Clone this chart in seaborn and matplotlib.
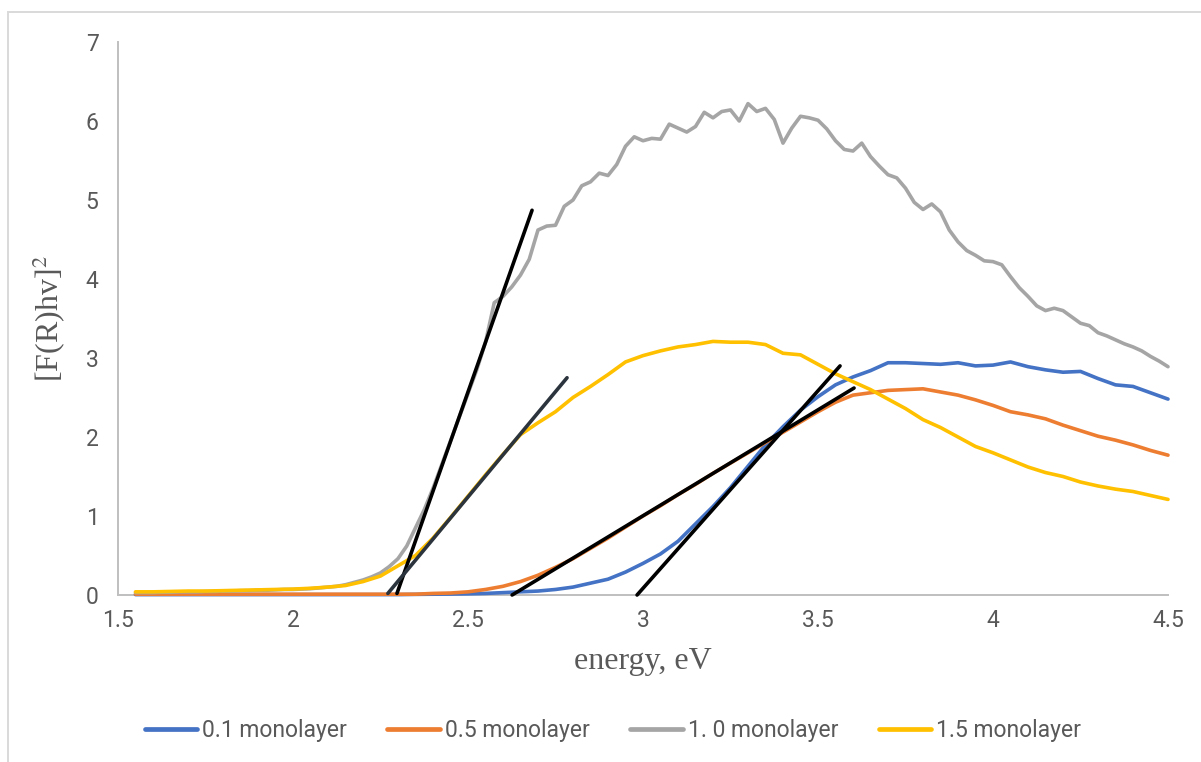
import numpy as np
import pandas as pd
import matplotlib
matplotlib.use("Agg")
import matplotlib.pyplot as plt
from matplotlib import font_manager
from matplotlib.lines import Line2D
from matplotlib.patches import Rectangle
from matplotlib.ticker import FuncFormatter
import seaborn as sns

# ---- data -------------------------------------------------------------
# photon energy grid (eV) for the smoother spectra
energy = [1.55, 1.60, 1.65, 1.70, 1.75, 1.80, 1.85, 1.90, 1.95, 2.00,
          2.05, 2.10, 2.15, 2.20, 2.25, 2.30, 2.35, 2.40, 2.45, 2.50,
          2.55, 2.60, 2.65, 2.70, 2.75, 2.80, 2.85, 2.90, 2.95, 3.00,
          3.05, 3.10, 3.15, 3.20, 3.25, 3.30, 3.35, 3.40, 3.45, 3.50,
          3.55, 3.60, 3.65, 3.70, 3.75, 3.80, 3.85, 3.90, 3.95, 4.00,
          4.05, 4.10, 4.15, 4.20, 4.25, 4.30, 4.35, 4.40, 4.45, 4.50]

ml_01 = [0.005, 0.005, 0.005, 0.005, 0.005, 0.005, 0.005, 0.005, 0.005, 0.005,
         0.005, 0.005, 0.005, 0.005, 0.005, 0.005, 0.008, 0.010, 0.012, 0.015,
         0.020, 0.030, 0.040, 0.050, 0.070, 0.100, 0.150, 0.200, 0.290, 0.400,
         0.520, 0.680, 0.900, 1.120, 1.360, 1.630, 1.900, 2.130, 2.340, 2.510,
         2.660, 2.760, 2.840, 2.940, 2.940, 2.930, 2.920, 2.940, 2.900, 2.910,
         2.950, 2.890, 2.850, 2.820, 2.830, 2.740, 2.660, 2.640, 2.560, 2.480]

ml_05 = [0.010, 0.010, 0.010, 0.010, 0.010, 0.010, 0.010, 0.010, 0.010, 0.010,
         0.010, 0.010, 0.010, 0.010, 0.010, 0.010, 0.010, 0.020, 0.025, 0.040,
         0.070, 0.110, 0.170, 0.250, 0.350, 0.460, 0.590, 0.720, 0.860, 1.000,
         1.130, 1.270, 1.400, 1.540, 1.670, 1.800, 1.930, 2.060, 2.190, 2.320,
         2.440, 2.530, 2.560, 2.590, 2.600, 2.610, 2.570, 2.530, 2.470, 2.400,
         2.320, 2.280, 2.230, 2.150, 2.080, 2.010, 1.960, 1.900, 1.830, 1.770]

ml_15 = [0.040, 0.040, 0.045, 0.050, 0.050, 0.055, 0.060, 0.065, 0.070, 0.075,
         0.085, 0.100, 0.120, 0.170, 0.240, 0.370, 0.500, 0.720, 0.980, 1.250,
         1.520, 1.780, 2.030, 2.180, 2.320, 2.500, 2.640, 2.790, 2.950, 3.030,
         3.090, 3.140, 3.170, 3.210, 3.200, 3.200, 3.170, 3.060, 3.040, 2.920,
         2.800, 2.700, 2.600, 2.480, 2.360, 2.220, 2.120, 2.000, 1.880, 1.800,
         1.710, 1.620, 1.550, 1.500, 1.430, 1.380, 1.340, 1.310, 1.260, 1.210]

# the 1.0 monolayer spectrum is noisier, so it is kept on a finer grid
energy_fine = [1.550, 1.575, 1.600, 1.625, 1.650, 1.675, 1.700, 1.725, 1.750, 1.775,
               1.800, 1.825, 1.850, 1.875, 1.900, 1.925, 1.950, 1.975, 2.000, 2.025,
               2.050, 2.075, 2.100, 2.125, 2.150, 2.175, 2.200, 2.225, 2.250, 2.275,
               2.300, 2.325, 2.350, 2.375, 2.400, 2.425, 2.450, 2.475, 2.500, 2.525,
               2.550, 2.575, 2.600, 2.625, 2.650, 2.675, 2.700, 2.725, 2.750, 2.775,
               2.800, 2.825, 2.850, 2.875, 2.900, 2.925, 2.950, 2.975, 3.000, 3.025,
               3.050, 3.075, 3.100, 3.125, 3.150, 3.175, 3.200, 3.225, 3.250, 3.275,
               3.300, 3.325, 3.350, 3.375, 3.400, 3.425, 3.450, 3.475, 3.500, 3.525,
               3.550, 3.575, 3.600, 3.625, 3.650, 3.675, 3.700, 3.725, 3.750, 3.775,
               3.800, 3.825, 3.850, 3.875, 3.900, 3.925, 3.950, 3.975, 4.000, 4.025,
               4.050, 4.075, 4.100, 4.125, 4.150, 4.175, 4.200, 4.225, 4.250, 4.275,
               4.300, 4.325, 4.350, 4.375, 4.400, 4.425, 4.450, 4.475, 4.500]

ml_10 = [0.030, 0.030, 0.030, 0.035, 0.035, 0.040, 0.040, 0.040, 0.045, 0.045,
         0.050, 0.050, 0.055, 0.055, 0.060, 0.060, 0.065, 0.070, 0.070, 0.075,
         0.080, 0.090, 0.100, 0.110, 0.130, 0.160, 0.190, 0.230, 0.280, 0.360,
         0.460, 0.620, 0.850, 1.080, 1.350, 1.650, 1.950, 2.250, 2.550, 2.850,
         3.200, 3.700, 3.780, 3.900, 4.050, 4.250, 4.620, 4.670, 4.680, 4.920,
         5.000, 5.180, 5.230, 5.340, 5.310, 5.450, 5.680, 5.800, 5.750, 5.780,
         5.770, 5.960, 5.910, 5.860, 5.930, 6.110, 6.040, 6.120, 6.140, 6.000,
         6.220, 6.120, 6.160, 6.020, 5.720, 5.910, 6.060, 6.040, 6.010, 5.900,
         5.750, 5.640, 5.620, 5.720, 5.550, 5.430, 5.320, 5.280, 5.150, 4.970,
         4.880, 4.950, 4.850, 4.620, 4.470, 4.360, 4.300, 4.230, 4.220, 4.180,
         4.030, 3.890, 3.780, 3.660, 3.600, 3.630, 3.600, 3.520, 3.440, 3.410,
         3.320, 3.280, 3.230, 3.180, 3.140, 3.090, 3.020, 2.960, 2.890]

series_labels = ["0.1 monolayer", "0.5 monolayer", "1. 0 monolayer", "1.5 monolayer"]
series_colors = ["#4472C4", "#ED7D31", "#A5A5A5", "#FFC000"]

# linear-region fits used for the band-gap extrapolation (start/end points)
fit_x0 = [2.297, 2.271, 2.626, 2.983]
fit_y0 = [0.02, 0.02, 0.0, 0.0]
fit_x1 = [2.683, 2.783, 3.603, 3.563]
fit_y1 = [4.87, 2.75, 2.62, 2.90]
fit_colors = ["#000000", "#2B333D", "#000000", "#000000"]

x_ticks = [1.5, 2, 2.5, 3, 3.5, 4, 4.5]
y_ticks = [0, 1, 2, 3, 4, 5, 6, 7]

# ---- styling ----------------------------------------------------------
sns.set_theme(style="white")
installed = {f.name for f in font_manager.fontManager.ttflist}
tick_font = "Roboto" if "Roboto" in installed else "DejaVu Sans"
serif_font = "Liberation Serif" if "Liberation Serif" in installed else "DejaVu Serif"
plt.rcParams["font.family"] = [tick_font, "DejaVu Sans"]
plt.rcParams["mathtext.fontset"] = "stix"

text_grey = "#595959"
axis_grey = "#BFBFBF"
line_w = 2.6

frames = []
for lab, xs, ys in [(series_labels[0], energy, ml_01),
                    (series_labels[1], energy, ml_05),
                    (series_labels[2], energy_fine, ml_10),
                    (series_labels[3], energy, ml_15)]:
    frames.append(pd.DataFrame({"energy": xs, "value": ys, "series": lab}))
df = pd.concat(frames, ignore_index=True)

W, H = 1201, 762
fig = plt.figure(figsize=(W / 100, H / 100), dpi=100)
ax = fig.add_axes([118 / W, 1 - 595 / H, 1050 / W, 553 / H])

for lab, col in zip(series_labels, series_colors):
    sub = df[df["series"] == lab]
    sns.lineplot(data=sub, x="energy", y="value", ax=ax, color=col,
                 linewidth=line_w, legend=False, zorder=3, clip_on=False,
                 errorbar=None, sort=False)

for x0, y0, x1, y1, c in zip(fit_x0, fit_y0, fit_x1, fit_y1, fit_colors):
    ax.plot([x0, x1], [y0, y1], color=c, linewidth=line_w, zorder=4,
            solid_capstyle="round", clip_on=False)

ax.set_xlim(1.5, 4.5)
ax.set_ylim(0, 7)
ax.set_xticks(x_ticks)
ax.set_yticks(y_ticks)
ax.xaxis.set_major_formatter(FuncFormatter(lambda v, p: f"{v:g}"))
ax.yaxis.set_major_formatter(FuncFormatter(lambda v, p: f"{v:g}"))
ax.tick_params(axis="both", length=0, labelsize=16.5, labelcolor=text_grey)
ax.tick_params(axis="x", pad=10)
ax.tick_params(axis="y", pad=14)

ax.grid(False)
for side in ["top", "right"]:
    ax.spines[side].set_visible(False)
for side in ["left", "bottom"]:
    ax.spines[side].set_color(axis_grey)
    ax.spines[side].set_linewidth(1.4)
    ax.spines[side].set_zorder(1)

ax.set_xlabel("energy, eV", fontsize=23, color=text_grey,
              family=serif_font, labelpad=11)
ax.set_ylabel(r"[F(R)hv]$^{2}$", fontsize=23, color=text_grey,
              family=serif_font, labelpad=13)

handles = [Line2D([0], [0], color=c, linewidth=3.4) for c in series_colors]
fig.legend(handles, series_labels, loc="center", ncol=4,
           bbox_to_anchor=(613 / W, 1 - 731 / H), frameon=False,
           labelcolor=text_grey, handlelength=2.3,
           handletextpad=0.22, columnspacing=1.75,
           prop={"family": [tick_font, "DejaVu Sans"], "size": 16.5})

# thin chart-area border
fig.patches.append(Rectangle((8 / W, -0.2), 1.5, (H - 12) / H + 0.2,
                             transform=fig.transFigure, fill=False,
                             edgecolor="#D9D9D9", linewidth=1.4))

fig.savefig("out.png", dpi=100, facecolor="white")
